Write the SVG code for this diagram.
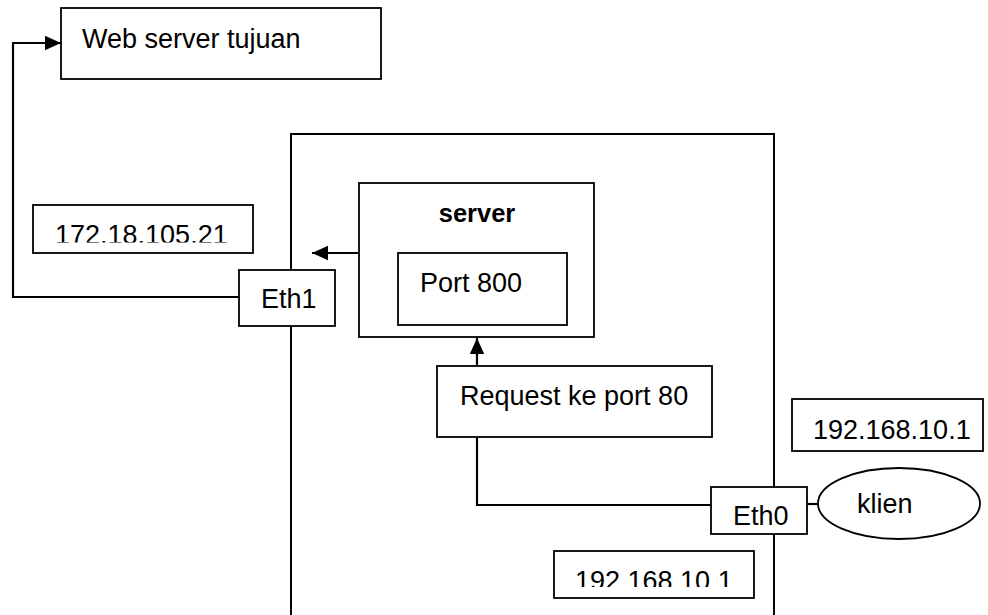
<svg xmlns="http://www.w3.org/2000/svg" width="988" height="615" viewBox="0 0 988 615">
<style>
.box{fill:#fff;stroke:#000;stroke-width:1.8}
.frame{fill:none;stroke:#000;stroke-width:2}
.conn{fill:none;stroke:#000;stroke-width:2.2}
text{font-family:"Liberation Sans",Arial,sans-serif;font-size:27px;fill:#000}
.b{font-weight:bold;font-size:25.5px}
</style>
<defs>
<marker id="ah2" viewBox="0 0 10 10" refX="10" refY="5" markerWidth="16" markerHeight="16" markerUnits="userSpaceOnUse" orient="auto">
<path d="M0,0.5 L10,5 L0,9.5 Z" fill="#000"/>
</marker>
<clipPath id="c1"><rect x="33" y="205" width="220" height="37.5"/></clipPath>
<clipPath id="c2"><rect x="554" y="551" width="200" height="36"/></clipPath>
</defs>

<g id="router">
<path class="frame" d="M291,620 V134 H774 V620"/>
</g>

<g id="connectors">
<polyline class="conn" points="239,297 13,297 13,43 61,43" marker-end="url(#ah2)"/>
<line class="conn" x1="359" y1="253" x2="312" y2="253" marker-end="url(#ah2)"/>
<line class="conn" x1="477" y1="366" x2="477" y2="338" marker-end="url(#ah2)"/>
<polyline class="conn" points="477,437 477,505 711,505"/>
<line class="conn" x1="807" y1="504" x2="818" y2="504"/>
</g>

<g id="web-server">
<rect class="box" x="61" y="8" width="320" height="71"/>
<text x="82" y="48">Web server tujuan</text>
</g>

<g id="ip-eth1">
<rect class="box" x="33" y="205" width="220" height="48"/>
<text x="55" y="243.5" clip-path="url(#c1)">172.18.105.21</text>
</g>

<g id="eth1">
<rect class="box" x="239" y="270" width="96" height="56"/>
<text x="261" y="308">Eth1</text>
</g>

<g id="server">
<rect class="box" x="359" y="183" width="235" height="154"/>
<text class="b" x="477" y="222" text-anchor="middle">server</text>
</g>

<g id="port800">
<rect class="box" x="398" y="253" width="169" height="72"/>
<text x="420" y="292">Port 800</text>
</g>

<g id="request">
<rect class="box" x="437" y="366" width="275" height="71"/>
<text x="460" y="405">Request ke port 80</text>
</g>

<g id="eth0">
<rect class="box" x="711" y="487" width="96" height="47"/>
<text x="733" y="525">Eth0</text>
</g>

<g id="klien">
<ellipse class="box" cx="899" cy="503.5" rx="81" ry="35.5"/>
<text x="857" y="513">klien</text>
</g>

<g id="ip-klien">
<rect class="box" x="792" y="399" width="191" height="52"/>
<text x="813" y="439">192.168.10.1</text>
</g>

<g id="ip-eth0">
<rect class="box" x="554" y="551" width="200" height="47"/>
<text x="575" y="590" clip-path="url(#c2)">192.168.10.1</text>
</g>
</svg>
